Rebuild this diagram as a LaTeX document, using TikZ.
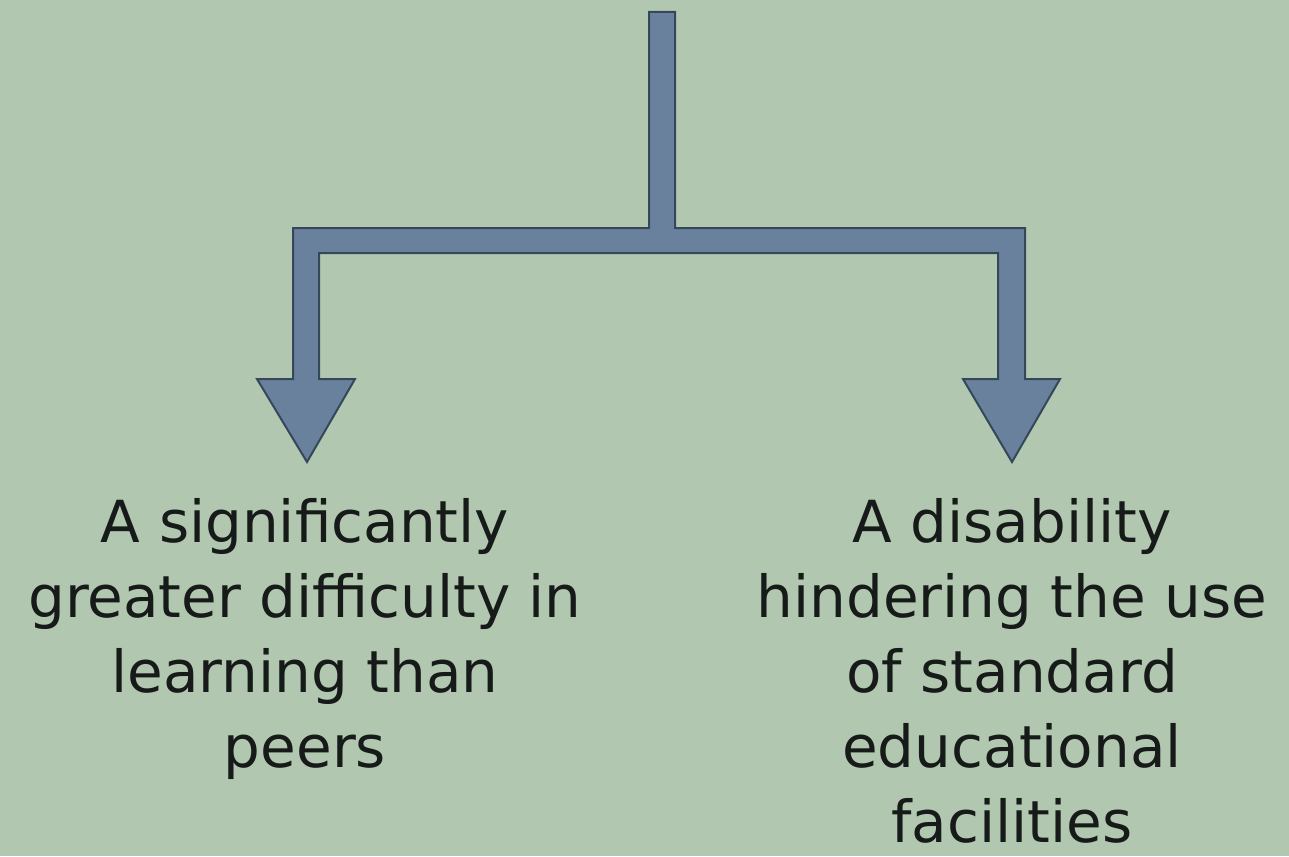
\documentclass[tikz,border=0pt]{standalone}
\usepackage{fontspec}
\setmainfont{DejaVu Sans}
\definecolor{bgc}{HTML}{B2C7B0}
\definecolor{arrfill}{HTML}{6A819D}
\definecolor{arrline}{HTML}{34485A}
\definecolor{txt}{HTML}{161A18}
\begin{document}
\begin{tikzpicture}[x=1pt,y=-1pt,
  label text/.style={anchor=north, inner sep=0pt, align=center, text=txt,
    font=\fontsize{58}{75}\selectfont},
  flow shape/.style={fill=arrfill, draw=arrline, line width=2pt, line join=miter}]
\fill[bgc] (0,0) rectangle (1289,856);
\useasboundingbox (0,0) rectangle (1289,856);
% split arrow shape
\coordinate (src) at (662,12);
\coordinate (tipL) at (307,462);
\coordinate (tipR) at (1012,462);
\draw[flow shape]
  (649,12) -- (675,12) -- (675,228) -- (1025,228) -- (1025,379) -- (1060,379)
  -- (tipR) -- (963,379) -- (998,379) -- (998,253) -- (319,253) -- (319,379)
  -- (355,379) -- (tipL) -- (257,379) -- (293,379) -- (293,228) -- (649,228) -- cycle;
\node[label text] (left) at (305,498) {A significantly\\greater difficulty in\\learning than\\peers};
\node[label text] (right) at (1012,498) {A disability\\hindering the use\\of standard\\educational\\facilities};
\end{tikzpicture}
\end{document}
